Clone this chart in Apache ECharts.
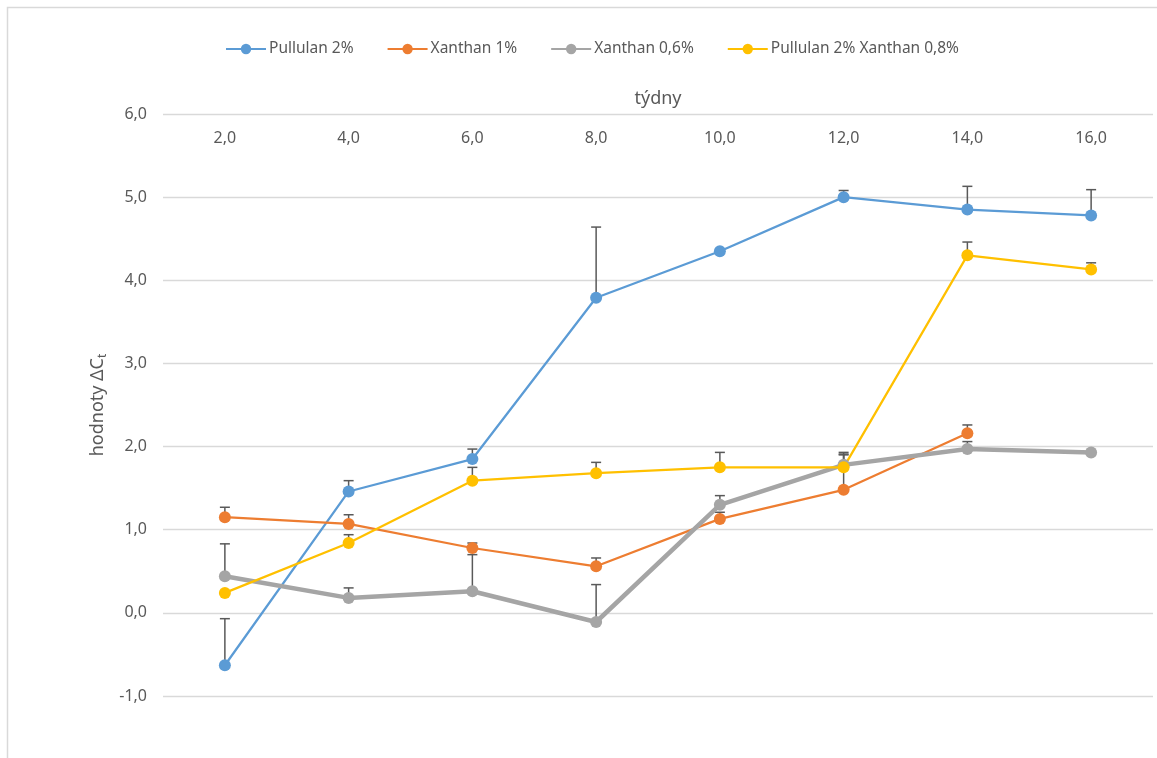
<!DOCTYPE html>
<html>
<head>
<meta charset="utf-8">
<title>hodnoty ΔCt</title>
<script src="https://cdn.jsdelivr.net/npm/echarts@6/dist/echarts.min.js"></script>
<style>
  html, body { margin: 0; padding: 0; background: #fff; }
  #chart { width: 1157px; height: 758px; }
</style>
</head>
<body>
<div id="chart"></div>
<script>
// Weeks (x categories)
const weeks = [2, 4, 6, 8, 10, 12, 14, 16];

// Mean ΔCt per week and the upper error (added on top of the mean)
const pullulan2 = [-0.63, 1.46, 1.85, 3.79, 4.35, 5.00, 4.85, 4.78];
const pullulan2Err = [0.56, 0.13, 0.12, 0.85, 0, 0.08, 0.28, 0.31];

const xanthan1 = [1.15, 1.07, 0.78, 0.56, 1.13, 1.48, 2.16, null];
const xanthan1Err = [0.12, 0.11, 0.06, 0.10, 0.08, 0.43, 0.10, null];

const xanthan06 = [0.44, 0.18, 0.26, -0.11, 1.30, 1.78, 1.97, 1.93];
const xanthan06Err = [0.39, 0.12, 0.44, 0.45, 0.11, 0.12, 0.09, 0];

const pulXan = [0.24, 0.84, 1.59, 1.68, 1.75, 1.75, 4.30, 4.13];
const pulXanErr = [0, 0.10, 0.16, 0.13, 0.18, 0.18, 0.16, 0.08];

const seriesDefs = [
  { name: 'Pullulan 2%', data: pullulan2, err: pullulan2Err, color: '#5B9BD5', width: 2.25 },
  { name: 'Xanthan 1%', data: xanthan1, err: xanthan1Err, color: '#ED7D31', width: 2.25 },
  { name: 'Xanthan 0,6%', data: xanthan06, err: xanthan06Err, color: '#A5A5A5', width: 4.5 },
  { name: 'Pullulan 2% Xanthan 0,8%', data: pulXan, err: pulXanErr, color: '#FFC000', width: 2.25 }
];

const fmt = v => v.toFixed(1).replace('.', ',');
const FONT = 'Noto Sans';
const TXT = '#595959';

// Upper error whiskers with a small cap
function errorBars(def) {
  const pts = [];
  def.data.forEach((v, i) => {
    if (v == null || !def.err[i]) return;
    pts.push([i, v, v + def.err[i]]);
  });
  return {
    type: 'custom',
    name: def.name + ' err',
    z: 1,
    silent: true,
    data: pts,
    renderItem: function (params, api) {
      const base = api.coord([api.value(0), api.value(1)]);
      const top = api.coord([api.value(0), api.value(2)]);
      const half = 5;
      const style = { stroke: '#595959', lineWidth: 1.5 };
      return {
        type: 'group',
        children: [
          { type: 'line', shape: { x1: base[0], y1: base[1], x2: top[0], y2: top[1] }, style: style },
          { type: 'line', shape: { x1: top[0] - half, y1: top[1], x2: top[0] + half, y2: top[1] }, style: style }
        ]
      };
    }
  };
}

const series = [];
seriesDefs.forEach(d => series.push(errorBars(d)));
seriesDefs.forEach(d => series.push({
  type: 'line',
  name: d.name,
  data: d.data,
  z: 2,
  symbol: 'circle',
  symbolSize: 12,
  color: d.color,
  lineStyle: { width: d.width, color: d.color },
  itemStyle: { color: d.color },
  connectNulls: false
}));

const chart = echarts.init(document.getElementById('chart'), null, { renderer: 'canvas' });
chart.setOption({
  backgroundColor: '#fff',
  animation: false,
  textStyle: { fontFamily: FONT },
  graphic: [{
    // chart-area frame
    type: 'rect',
    silent: true,
    shape: { x: 7.5, y: 7.5, width: 1200, height: 800 },
    style: { fill: null, stroke: '#d9d9d9', lineWidth: 1.5 }
  }],
  legend: {
    data: seriesDefs.map(d => d.name),
    top: 36,
    left: 220,
    itemWidth: 40,
    itemHeight: 13,
    itemGap: 33,
    textStyle: { fontFamily: FONT, fontSize: 15.5, color: TXT, padding: [0, 0, 0, -2] }
  },
  grid: { left: 163, right: 4, top: 114, bottom: 62 },
  xAxis: {
    type: 'category',
    position: 'top',
    data: weeks,
    boundaryGap: true,
    name: 'týdny',
    nameLocation: 'middle',
    nameGap: 6,
    nameTextStyle: { fontFamily: FONT, fontSize: 18, color: TXT },
    axisLine: { show: false },
    axisTick: { show: false },
    axisLabel: {
      inside: true,
      margin: 16,
      fontFamily: FONT, fontSize: 16, color: TXT,
      formatter: v => fmt(Number(v))
    }
  },
  yAxis: {
    type: 'value',
    min: -1,
    max: 6,
    interval: 1,
    name: '{a|hodnoty ΔC}{s|t}',
    nameLocation: 'middle',
    nameGap: 50,
    nameRotate: 90,
    nameTextStyle: {
      rich: {
        a: { fontFamily: FONT, fontSize: 18, color: TXT },
        s: { fontFamily: FONT, fontSize: 12, color: TXT, padding: [8, 0, 0, 0] }
      }
    },
    axisLine: { show: false },
    axisTick: { show: false },
    splitLine: { lineStyle: { color: '#d9d9d9', width: 1.3 } },
    axisLabel: {
      margin: 16,
      fontFamily: FONT, fontSize: 16, color: TXT,
      formatter: v => fmt(v)
    }
  },
  series: series
});
</script>
</body>
</html>
